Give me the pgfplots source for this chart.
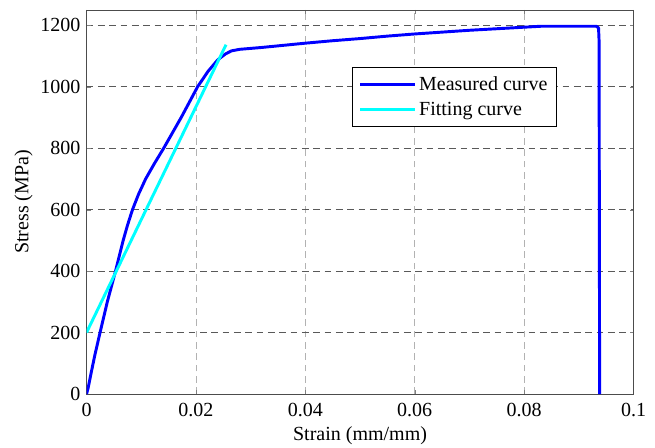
\documentclass[border=0pt]{standalone}
\usepackage{fontspec}
\setmainfont{Liberation Serif}
\usepackage{pgfplots}
\pgfplotsset{compat=1.18}
\definecolor{meas}{RGB}{0,0,255}
\definecolor{fitc}{RGB}{0,255,255}
\begin{document}
\begin{tikzpicture}
\begin{axis}[
  scale only axis,
  width=410.25pt, height=288pt,
  xmin=0, xmax=0.1, ymin=0, ymax=1250,
  xtick={0,0.02,0.04,0.06,0.08,0.1},
  xticklabels={0,0.02,0.04,0.06,0.08,0.1},
  ytick={0,200,400,600,800,1000,1200},
  /pgf/number format/assume math mode=true,
  /pgf/number format/1000 sep={},
  tick label style={font=\fontsize{15}{18}\selectfont},
  label style={font=\fontsize{15}{18}\selectfont},
  xlabel={Strain (mm/mm)},
  ylabel={Stress (MPa)},
  xlabel style={yshift=-1pt},
  ylabel style={yshift=-1pt},
  grid=major,
  major x grid style={black!30, dash pattern=on 5pt off 3.5pt, line width=0.6pt},
  major y grid style={black!65, dash pattern=on 5pt off 3.5pt, line width=0.6pt},
  tick align=inside,
  major tick length=3pt,
  axis line style={black!70, line width=0.6pt},
  xticklabel style={yshift=-3pt},
  yticklabel style={xshift=-1pt},
  legend style={at={(0.485,0.8516)}, anchor=north west, draw=black, line width=0.6pt,
    fill=white, font=\fontsize{15}{18}\selectfont, inner xsep=5pt, inner ysep=5pt,
    row sep=3pt},
  legend cell align=left,
  legend image code/.code={\draw[#1] (0pt,0pt) -- (41pt,0pt);},
]
\addplot[meas, line width=2.2pt, line join=round] coordinates {
(0,0) (0.0003,20) (0.0008,65) (0.0015,125) (0.00247,200) (0.0038,300)
(0.0053,400) (0.0067,500) (0.0075,550) (0.0084,600) (0.0095,650)
(0.0108,700) (0.0124,750) (0.0141,800)
(0.0173,900) (0.0203,1000) (0.0222,1050) (0.0240,1088) (0.0254,1107)
(0.0265,1117) (0.028,1122) (0.032,1128) (0.036,1135) (0.040,1142)
(0.045,1150) (0.050,1157) (0.055,1165) (0.060,1172) (0.065,1178)
(0.070,1184) (0.075,1189) (0.080,1194) (0.083,1197) (0.0932,1197)
(0.0936,1192) (0.0937,1150) (0.0938,0)
};
\addlegendentry{Measured curve}
\addplot[fitc, line width=2.2pt] coordinates {(0,200) (0.0255,1137)};
\addlegendentry{Fitting curve}
\coordinate (sw) at (rel axis cs:0,0);
\end{axis}
\pgfresetboundingbox
\path (sw) ++(-64.9pt,-39.75pt) rectangle ++(491.25pt,335.25pt);
\end{tikzpicture}
\end{document}
